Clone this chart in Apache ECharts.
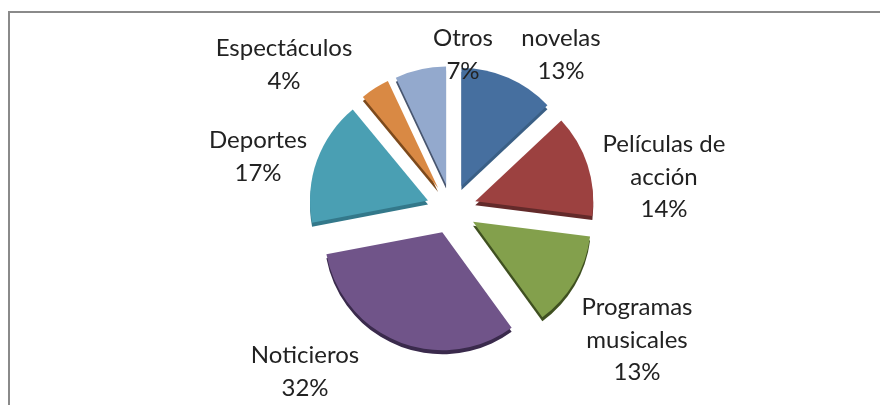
<!DOCTYPE html>
<html><head><meta charset="utf-8">
<style>html,body{margin:0;padding:0;background:#fff}#c{width:880px;height:405px}</style>
<script src="https://cdn.jsdelivr.net/npm/echarts@6/dist/echarts.min.js"></script>
</head><body><div id="c"></div>
<script>
const categories = ['novelas','Películas de\nacción','Programas\nmusicales','Noticieros','Deportes','Espectáculos','Otros'];
const values = [13,14,13,32,17,4,7];
const topColors = ['#466f9f','#9c4140','#83a04c','#705489','#4a9fb3','#d98944','#93a9cd'];
const sideColors = ['#3a5f85','#632a2a','#3f5020','#3a2a4c','#33788a','#7d4a1c','#48566f'];
const labelSpots = [[561,55],[664,177],[637,340],[305,372],[258,157],[284,65],[463,55]];
const CX = 451.5, CY = 209, R = 118, OFFSET = 25, DEPTH = 4;

const chart = echarts.init(document.getElementById('c'), null, {renderer:'canvas'});
function pie(colors, dy){
  return {
    type:'pie', center:[CX,CY+dy], radius:[0,R], startAngle:90, clockwise:true,
    selectedMode:'multiple', selectedOffset:OFFSET, silent:true, animation:false,
    avoidLabelOverlap:false,
    data: categories.map((n,i)=>({name:n,value:values[i],selected:true,itemStyle:{color:colors[i]}})),
    label:{show:false}, labelLine:{show:false},
    emphasis:{disabled:true}
  };
}
const labels = categories.map((n,i)=>({
  type:'text', silent:true, z:10, x:labelSpots[i][0], y:labelSpots[i][1],
  style:{text:n+'\n'+values[i]+'%', fontFamily:'Lato', fontSize:24, lineHeight:32.5,
    fill:'#222', align:'center', verticalAlign:'middle'}
}));
chart.setOption({
  animation:false,
  backgroundColor:'#fff',
  graphic:[{type:'polyline',silent:true,z:-1,shape:{points:[[9,405],[9,12],[880,12]]},style:{fill:'none',stroke:'#8a8a8a',lineWidth:2}}].concat(labels),
  series:[pie(sideColors,DEPTH),pie(topColors,0)]
});
</script></body></html>
